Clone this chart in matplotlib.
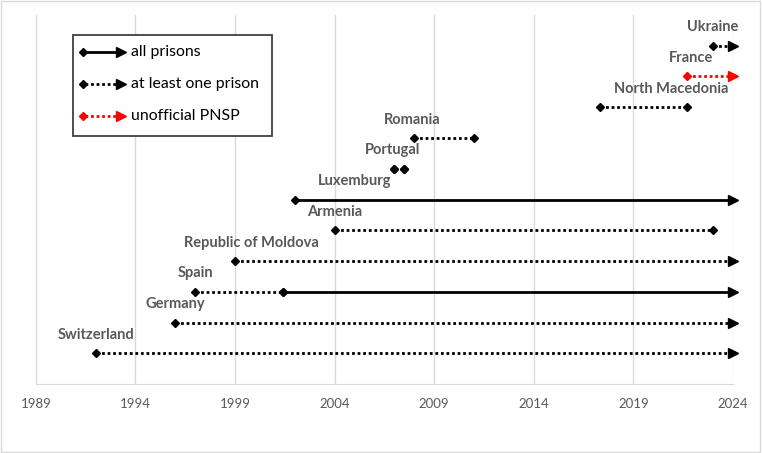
import matplotlib.pyplot as plt
from matplotlib.patches import Rectangle

plt.rcParams['font.family'] = ['Lato', 'DejaVu Sans']

# one row per country, bottom to top
countries = ["Switzerland", "Germany", "Spain", "Republic of Moldova", "Armenia",
             "Luxemburg", "Portugal", "Romania", "North Macedonia", "France", "Ukraine"]
# (start, end, kind, arrow) segments per country
# kind: 'all' = all prisons, 'one' = at least one prison, 'unoff' = unofficial PNSP
segments = [
    [(1992, 2024, "one", True)],
    [(1996, 2024, "one", True)],
    [(1997, 2001.4, "one", False), (2001.4, 2024, "all", True)],
    [(1999, 2024, "one", True)],
    [(2004, 2023, "one", False)],
    [(2002, 2024, "all", True)],
    [(2007, 2007, "one", False), (2007.5, 2007.5, "one", False)],
    [(2008, 2011, "one", False)],
    [(2017.3, 2021.7, "one", False)],
    [(2021.7, 2024, "unoff", True)],
    [(2023, 2024, "one", True)],
]
label_x = [1992, 1996, 1997, 1999.8, 2004, 2005, 2006.9, 2007.9, 2020.9, 2021.9, 2023]

styles = {
    "all": dict(color="black", ls="-"),
    "one": dict(color="black", ls=(0, (1, 1))),
    "unoff": dict(color="red", ls=(0, (1, 1))),
}

fig = plt.figure(figsize=(7.62, 4.53), dpi=100)
ax = fig.add_axes([0.047, 0.152, 0.915, 0.815])

grey = "#595959"

def draw_seg(ax, x0, x1, y, kind, arrow):
    st = styles[kind]
    ax.plot([x0, x1], [y, y], color=st["color"], ls=st["ls"], lw=2,
            dash_capstyle="butt", solid_capstyle="butt", zorder=3, clip_on=False)
    ax.plot([x0], [y], marker="D", color=st["color"], ms=4.5, zorder=4, clip_on=False)
    end_marker = ">" if arrow else "D"
    ax.plot([x1], [y], marker=end_marker, color=st["color"],
            ms=7 if arrow else 4.5, zorder=4, clip_on=False)

for i, (name, segs) in enumerate(zip(countries, segments)):
    y = i + 1
    for x0, x1, kind, arrow in segs:
        draw_seg(ax, x0, x1, y, kind, arrow)
    ax.text(label_x[i], y + 0.6, name, ha="center", va="center",
            fontsize=10.5, fontweight="bold", color=grey)

ax.set_xlim(1989, 2024)
ax.set_ylim(0, 12)
ax.set_xticks(range(1989, 2025, 5))
ax.set_yticks([])
ax.grid(axis="x", color="#d9d9d9", lw=1)
ax.set_axisbelow(True)
for s in ["top", "right"]:
    ax.spines[s].set_visible(False)
for s in ["left", "bottom"]:
    ax.spines[s].set_color("#d9d9d9")
ax.tick_params(axis="x", length=0, pad=10, labelsize=9.5, colors=grey)

# legend drawn by hand
lx0, lx1 = 0.053, 0.339
ax.add_patch(Rectangle((lx0, 0.673), lx1 - lx0, 0.273, transform=ax.transAxes,
                       fill=True, fc="white", ec="#404040", lw=1.3, zorder=5))
legend_items = [("all prisons", "all"), ("at least one prison", "one"), ("unofficial PNSP", "unoff")]
for j, (txt, kind) in enumerate(legend_items):
    yy = 0.900 - j * 0.0867
    st = styles[kind]
    ax.plot([0.07, 0.12], [yy, yy], color=st["color"], ls=st["ls"], lw=2,
            dash_capstyle="butt", transform=ax.transAxes, zorder=6)
    ax.plot([0.068], [yy], marker="D", color=st["color"], ms=4.5, transform=ax.transAxes, zorder=6)
    ax.plot([0.122], [yy], marker=">", color=st["color"], ms=7, transform=ax.transAxes, zorder=6)
    ax.text(0.136, yy, txt, transform=ax.transAxes, va="center", ha="left",
            fontsize=11.4, color="black", zorder=6)

fig.patches.append(Rectangle((0.001, 0.002), 0.997, 0.996, transform=fig.transFigure,
                             fill=False, ec="#d9d9d9", lw=1))
fig.savefig("out.png", dpi=100)
